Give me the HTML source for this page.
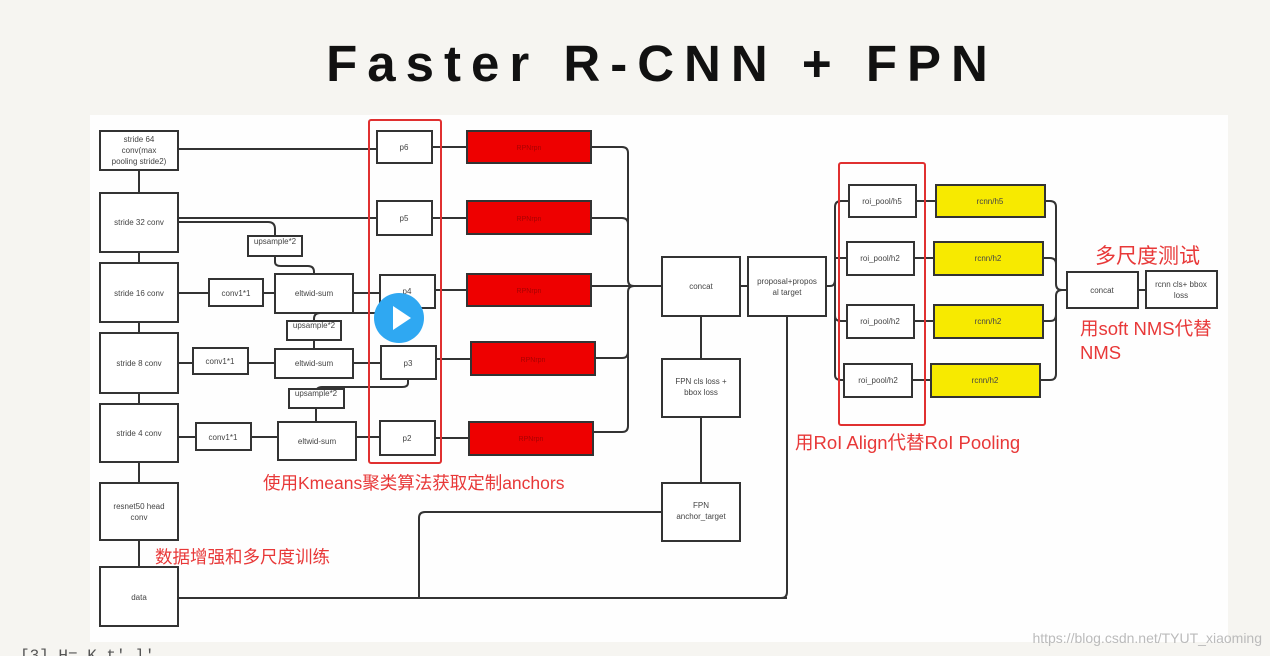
<!DOCTYPE html>
<html><head><meta charset="utf-8"><style>
html,body{margin:0;padding:0;width:1270px;height:656px;overflow:hidden;background:#f6f5f1;}
svg{display:block}
</style></head><body>
<svg width="1270" height="656" viewBox="0 0 1270 656" xmlns="http://www.w3.org/2000/svg" font-family="Liberation Sans, sans-serif">
<rect x="0" y="0" width="1270" height="656" fill="#f6f5f1"/>
<rect x="90" y="115" width="1138" height="527" fill="#fefefe"/>
<text x="662" y="81" text-anchor="middle" font-size="51" font-weight="bold" letter-spacing="10" fill="#111">Faster R-CNN + FPN</text>

<g stroke="#333" stroke-width="2" fill="none">
<line x1="139" y1="170" x2="139" y2="567"/>
<line x1="178" y1="149" x2="377" y2="149"/>
<line x1="178" y1="218" x2="377" y2="218"/>
<path d="M178 222 H268 q7 0 7 7 V236"/>
<path d="M275 256 V262 q0 4 6 4 H308 q6 0 6 6 V274"/>
<line x1="178" y1="293" x2="209" y2="293"/>
<line x1="263" y1="293" x2="275" y2="293"/>
<line x1="353" y1="293" x2="380" y2="293"/>
<path d="M408 308 V313 H320 q-6 0 -6 6 V321"/>
<line x1="314" y1="340" x2="314" y2="349"/>
<line x1="178" y1="363" x2="193" y2="363"/>
<line x1="248" y1="363" x2="275" y2="363"/>
<line x1="353" y1="363" x2="381" y2="363"/>
<path d="M408 379 V383 q0 4 -6 4 H322 q-6 0 -6 6 V389"/>
<line x1="316" y1="408" x2="316" y2="422"/>
<line x1="178" y1="437" x2="196" y2="437"/>
<line x1="251" y1="437" x2="278" y2="437"/>
<line x1="356" y1="437" x2="380" y2="437"/>
<line x1="432" y1="147" x2="467" y2="147"/>
<line x1="432" y1="218" x2="467" y2="218"/>
<line x1="435" y1="290" x2="467" y2="290"/>
<line x1="436" y1="359" x2="471" y2="359"/>
<line x1="435" y1="438" x2="469" y2="438"/>
<path d="M591 147 H622 q6 0 6 6 V280 q0 6 6 6"/>
<path d="M591 218 H622 q6 0 6 6"/>
<line x1="591" y1="286" x2="662" y2="286"/>
<path d="M595 358 H622 q6 0 6 -6 V292 q0 -6 6 -6"/>
<path d="M593 432 H622 q6 0 6 -6 V292"/>
<line x1="740" y1="286" x2="748" y2="286"/>
<line x1="701" y1="316" x2="701" y2="359"/>
<line x1="701" y1="417" x2="701" y2="483"/>
<line x1="178" y1="598" x2="787" y2="598"/>
<path d="M419 598 V518 q0 -6 6 -6 H662"/>
<path d="M787 316 V592 q0 6 -6 6"/>
<path d="M826 286 H830 q5 0 5 -6 V207 q0 -6 6 -6 H849"/>
<path d="M835 258 H847"/>
<path d="M835 280 V316 q0 5 6 5 H847"/>
<path d="M835 316 V375 q0 5 6 5 H844"/>
<line x1="916" y1="201" x2="936" y2="201"/>
<line x1="914" y1="258" x2="934" y2="258"/>
<line x1="914" y1="321" x2="934" y2="321"/>
<line x1="912" y1="380" x2="931" y2="380"/>
<path d="M1045 201 H1050 q6 0 6 6 V284 q0 6 6 6 H1067"/>
<path d="M1043 258 H1050 q6 0 6 6"/>
<path d="M1043 321 H1050 q6 0 6 -6 V296 q0 -6 6 -6"/>
<path d="M1040 380 H1050 q6 0 6 -6 V300"/>
<line x1="1138" y1="290" x2="1146" y2="290"/>
</g>

<g stroke="#333" stroke-width="2" fill="#fff">
<rect x="100" y="131" width="78" height="39"/>
<rect x="100" y="193" width="78" height="59"/>
<rect x="100" y="263" width="78" height="59"/>
<rect x="100" y="333" width="78" height="60"/>
<rect x="100" y="404" width="78" height="58"/>
<rect x="100" y="483" width="78" height="57"/>
<rect x="100" y="567" width="78" height="59"/>
<rect x="209" y="279" width="54" height="27"/>
<rect x="193" y="348" width="55" height="26"/>
<rect x="196" y="423" width="55" height="27"/>
<rect x="275" y="274" width="78" height="39"/>
<rect x="275" y="349" width="78" height="29"/>
<rect x="278" y="422" width="78" height="38"/>
<rect x="248" y="236" width="54" height="20"/>
<rect x="287" y="321" width="54" height="19"/>
<rect x="289" y="389" width="55" height="19"/>
<rect x="377" y="131" width="55" height="32"/>
<rect x="377" y="201" width="55" height="34"/>
<rect x="380" y="275" width="55" height="33"/>
<rect x="381" y="346" width="55" height="33"/>
<rect x="380" y="421" width="55" height="34"/>
<rect x="662" y="257" width="78" height="59"/>
<rect x="748" y="257" width="78" height="59"/>
<rect x="662" y="359" width="78" height="58"/>
<rect x="662" y="483" width="78" height="58"/>
<rect x="849" y="185" width="67" height="32"/>
<rect x="847" y="242" width="67" height="33"/>
<rect x="847" y="305" width="67" height="33"/>
<rect x="844" y="364" width="68" height="33"/>
<rect x="1067" y="272" width="71" height="36"/>
<rect x="1146" y="271" width="71" height="37"/>
</g>
<g stroke="#333" stroke-width="2" fill="#ee0000">
<rect x="467" y="131" width="124" height="32"/>
<rect x="467" y="201" width="124" height="33"/>
<rect x="467" y="274" width="124" height="32"/>
<rect x="471" y="342" width="124" height="33"/>
<rect x="469" y="422" width="124" height="33"/>
</g>
<g stroke="#333" stroke-width="2" fill="#f7ea00">
<rect x="936" y="185" width="109" height="32"/>
<rect x="934" y="242" width="109" height="33"/>
<rect x="934" y="305" width="109" height="33"/>
<rect x="931" y="364" width="109" height="33"/>
</g>
<g stroke="#e03030" stroke-width="2" fill="none">
<rect x="369" y="120" width="72" height="343" rx="2"/>
<rect x="839" y="163" width="86" height="262" rx="2"/>
</g>

<g font-size="8" fill="#444" text-anchor="middle">
<text x="139" y="142">stride 64</text><text x="139" y="153">conv(max</text><text x="139" y="164">pooling stride2)</text>
<text x="139" y="225">stride 32 conv</text>
<text x="139" y="296">stride 16 conv</text>
<text x="139" y="366">stride 8 conv</text>
<text x="139" y="436">stride 4 conv</text>
<text x="139" y="509">resnet50 head</text><text x="139" y="520">conv</text>
<text x="139" y="600">data</text>
<text x="236" y="296">conv1*1</text>
<text x="220" y="364">conv1*1</text>
<text x="223" y="440">conv1*1</text>
<text x="314" y="296">eltwid-sum</text>
<text x="314" y="366">eltwid-sum</text>
<text x="317" y="444">eltwid-sum</text>
<text x="275" y="244">upsample*2</text>
<text x="314" y="328">upsample*2</text>
<text x="316" y="396">upsample*2</text>
<text x="404" y="150">p6</text><text x="404" y="221">p5</text><text x="407" y="294">p4</text>
<text x="408" y="366">p3</text><text x="407" y="441">p2</text>
<text x="701" y="289">concat</text>
<text x="787" y="284">proposal+propos</text><text x="787" y="295">al target</text>
<text x="701" y="384">FPN cls loss +</text><text x="701" y="395">bbox loss</text>
<text x="701" y="508">FPN</text><text x="701" y="519">anchor_target</text>
<text x="882" y="204">roi_pool/h5</text><text x="880" y="261">roi_pool/h2</text>
<text x="880" y="324">roi_pool/h2</text><text x="878" y="383">roi_pool/h2</text>
<text x="990" y="204">rcnn/h5</text><text x="988" y="261">rcnn/h2</text>
<text x="988" y="324">rcnn/h2</text><text x="985" y="383">rcnn/h2</text>
<text x="1102" y="293">concat</text>
<text x="1181" y="287">rcnn cls+ bbox</text><text x="1181" y="298">loss</text>
</g>
<g font-size="7" fill="#a00" text-anchor="middle">
<text x="529" y="150">RPNrpn</text><text x="529" y="221">RPNrpn</text><text x="529" y="293">RPNrpn</text><text x="533" y="362">RPNrpn</text><text x="531" y="441">RPNrpn</text>
</g>

<circle cx="399" cy="318" r="25" fill="#2fa8f2"/>
<path d="M393 306 L411 318 L393 330 Z" fill="#fff"/>

<g fill="#e83838" font-family="Liberation Sans, 'Noto Sans CJK SC', sans-serif">
<text x="263" y="489" font-size="17.5">使用Kmeans聚类算法获取定制anchors</text>
<text x="155" y="563" font-size="17.5">数据增强和多尺度训练</text>
<text x="795" y="449" font-size="18.5">用RoI Align代替RoI Pooling</text>
<text x="1095" y="263" font-size="21">多尺度测试</text>
<text x="1080" y="335" font-size="18.5">用soft NMS代替</text>
<text x="1080" y="359" font-size="18.5">NMS</text>
</g>
<text x="1262" y="643" text-anchor="end" font-size="14" fill="#bbb">https://blog.csdn.net/TYUT_xiaoming</text>
<text x="20" y="660" font-size="16" fill="#555" font-family="Liberation Mono, monospace">[3] H= K  t' l'</text>
</svg>
</body></html>
